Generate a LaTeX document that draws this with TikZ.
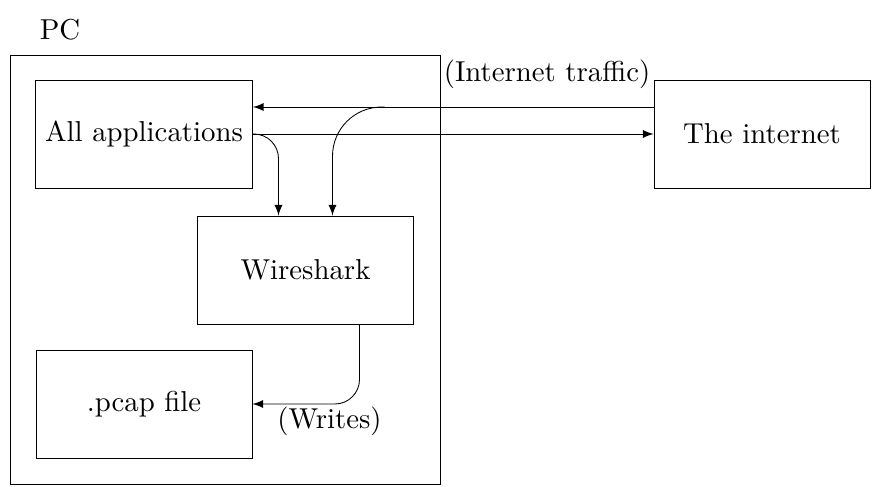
\documentclass[tikz,border=0pt]{standalone}
\usetikzlibrary{calc}
\begin{document}
\begin{tikzpicture}[x=0.0122cm, y=-0.0122cm, line width=0.3pt,
    box/.style={draw, minimum width=2.635cm, minimum height=1.318cm}]
  \useasboundingbox (0,0) rectangle (875,487);
  \node (pc) at (60,30) {PC};
  \draw (10,55) rectangle (440,484);
  \node[box] (apps) at (144,134) {All applications};
  \node[box] (net) at (762,134) {The internet};
  \node[box] (wire) at (305.5,270) {Wireshark};
  \node[box] (pcap) at (144,404) {.pcap file};
  \node[anchor=east, inner sep=1pt] (traffic) at ($(net.north west)+(0,-5)$) {(Internet traffic)};
  \coordinate (tap) at ($(net.west)+(-269,-27)$);
  \draw[-latex] ($(net.west)+(0,-27)$) -- ($(apps.east)+(0,-27)$);
  \draw[-latex, rounded corners=0.6cm] (tap) -| ($(wire.north)+(27,0)$);
  \draw[-latex] (apps.east) -- (net.west);
  \draw[-latex, rounded corners=0.3cm] (apps.east) -| ($(wire.north)+(-27,0)$);
  \draw[-latex, rounded corners=0.3cm] ($(wire.south)+(54,0)$) |- (pcap.east)
    node[below, pos=0.64, inner sep=1pt] (writes) {(Writes)};
\end{tikzpicture}
\end{document}
